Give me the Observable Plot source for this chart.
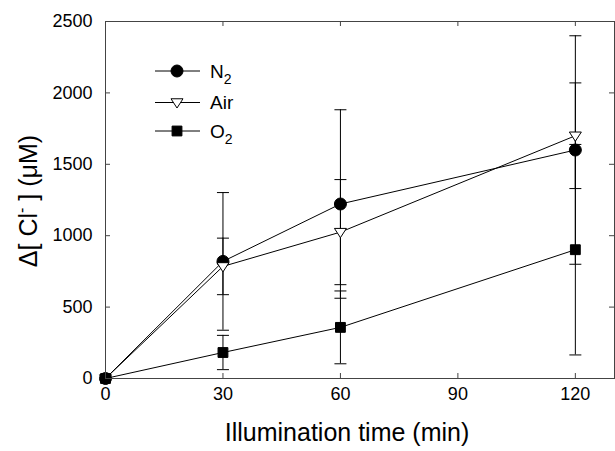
<!DOCTYPE html>
<html><head><meta charset="utf-8">
<script src="https://cdn.jsdelivr.net/npm/d3@7"></script>
<script src="https://cdn.jsdelivr.net/npm/@observablehq/plot@0.6"></script>
<style>body{margin:0;background:#fff}</style>
</head><body><div id="chart"></div>
<script>
// ---- data ----
const times = [0, 30, 60, 120];
const seriesNames = ["N2", "Air", "O2"];
const n2 = [0, 820, 1222, 1600];
const n2Err = [0, 482, 660, 800];
const air = [0, 785, 1025, 1700];
const airErr = [0, 198, 368, 370];
const o2 = [0, 182, 358, 902];
const o2Err = [0, 120, 255, 737];
const xTicks = [0, 30, 60, 90, 120];
const yTicks = [0, 500, 1000, 1500, 2000, 2500];
const xLabel = "Illumination time (min)";
const yLabel = "Δ[ Cl- ] (μM)";

// ---- symbols ----
const rOf = s => Math.sqrt(s / Math.PI);
const symCircle = {draw(c, s){const r = rOf(s); c.moveTo(r,0); c.arc(0,0,r,0,2*Math.PI);}};
const symTri = {draw(c, s){const r = rOf(s); c.moveTo(-r,-0.62*r); c.lineTo(r,-0.62*r); c.lineTo(0,0.92*r); c.closePath();}};
const symSquare = {draw(c, s){const r = rOf(s)*0.82; c.moveTo(-r,-r); c.lineTo(r,-r); c.lineTo(r,r); c.lineTo(-r,r); c.closePath();}};
const symCap = {draw(c, s){const r = rOf(s); c.moveTo(-r,0); c.lineTo(r,0);}};

const values = [n2, air, o2], errs = [n2Err, airErr, o2Err];
const styles = [
  {symbol: symCircle, fill: "#000"},
  {symbol: symTri, fill: "#fff"},
  {symbol: symSquare, fill: "#000"}
];
const rows = [];
seriesNames.forEach((s, i) => times.forEach((t, j) => rows.push({
  series: s, t, v: values[i][j], lo: values[i][j] - errs[i][j], hi: values[i][j] + errs[i][j], err: errs[i][j]
})));
const errRows = rows.filter(d => d.err > 0);
const capRows = errRows.flatMap(d => [{t: d.t, y: d.lo}, {t: d.t, y: d.hi}]);

const W = 615, H = 451, mL = 105, mR = 1, mT = 21, mB = 73;
const pw = W - mL - mR, ph = H - mT - mB, tk = 5;
const axisColor = "#444";

const chart = Plot.plot({
  width: W, height: H, marginLeft: mL, marginRight: mR, marginTop: mT, marginBottom: mB,
  style: {fontFamily: "'Liberation Sans', Arial, sans-serif", fontSize: "18px", background: "#fff", color: "#000"},
  x: {domain: [0, 130], ticks: xTicks, tickSize: 0, tickPadding: 9, label: null, tickFormat: d3.format("d")},
  y: {domain: [0, 2500], ticks: yTicks, tickSize: 0, tickPadding: 13, label: null, tickFormat: d3.format("d")},
  marks: [
    Plot.tickY(yTicks, {y: d => d, insetRight: pw - tk, stroke: axisColor}),
    Plot.tickY(yTicks, {y: d => d, insetLeft: pw - tk, stroke: axisColor}),
    Plot.tickX(xTicks, {x: d => d, insetTop: ph - tk, stroke: axisColor}),
    Plot.tickX(xTicks, {x: d => d, insetBottom: ph - tk, stroke: axisColor}),
    Plot.ruleX(errRows, {x: "t", y1: "lo", y2: "hi", stroke: "#000", strokeWidth: 1}),
    Plot.dot(capRows, {x: "t", y: "y", symbol: symCap, r: 6, stroke: "#000", fill: "none", strokeWidth: 1}),
    Plot.line(rows, {x: "t", y: "v", z: "series", stroke: "#000", strokeWidth: 1}),
    ...seriesNames.map((s, i) => Plot.dot(rows.filter(d => d.series === s), {
      x: "t", y: "v", symbol: styles[i].symbol, r: 6, fill: styles[i].fill, stroke: "#000", strokeWidth: 1
    })),
    Plot.frame({stroke: axisColor}),
    Plot.text([xLabel], {text: d => d, frameAnchor: "bottom", textAnchor: "middle", dy: 62, dx: -13, fontSize: 25, fill: "#000"}),
    Plot.text([yLabel], {text: d => d, frameAnchor: "left", textAnchor: "middle", rotate: -90, dx: -77, dy: 1, fontSize: 25, fill: "#000"})
  ]
});
document.getElementById("chart").appendChild(chart);

const svg = d3.select(chart);
// superscript minus in y label
svg.selectAll("text").filter(function(){return this.textContent === yLabel;}).each(function(){
  const t = d3.select(this);
  t.text(null);
  t.append("tspan").text("Δ[ Cl");
  t.append("tspan").attr("font-size", 16).attr("dy", -10).text("-");
  t.append("tspan").attr("dy", 10).text(" ] (μM)");
});

// legend
const legendY = [71, 102.5, 131];
const lg = svg.append("g").attr("font-family", "'Liberation Sans', Arial, sans-serif").attr("font-size", 19).attr("text-anchor", "start");
seriesNames.forEach((s, i) => {
  const y = legendY[i];
  lg.append("line").attr("x1", 155).attr("x2", 200).attr("y1", y).attr("y2", y).attr("stroke", "#000");
  const p = d3.path(); styles[i].symbol.draw(p, Math.PI * 36);
  lg.append("path").attr("d", p.toString()).attr("transform", `translate(177,${y})`)
    .attr("fill", styles[i].fill).attr("stroke", "#000");
  const tx = lg.append("text").attr("x", 210).attr("y", y).attr("dy", "0.35em").attr("text-anchor", "start");
  const m = s.match(/^(\D+)(\d*)$/);
  tx.append("tspan").text(m[1]);
  if (m[2]) tx.append("tspan").attr("font-size", 14).attr("dy", 6).text(m[2]);
});
</script>
</body></html>
